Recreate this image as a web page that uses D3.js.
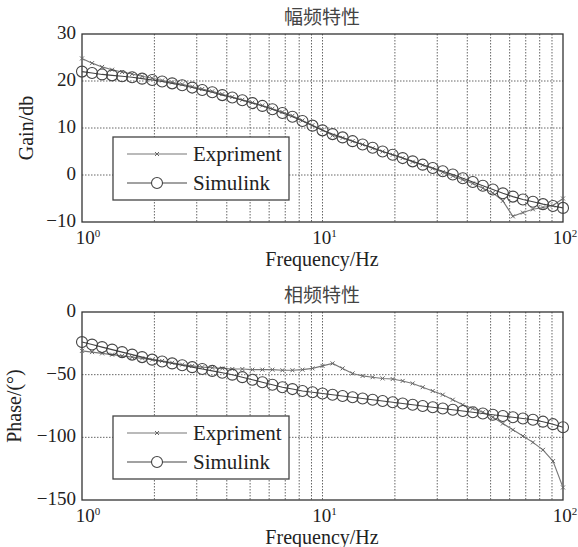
<!DOCTYPE html>
<html>
<head>
<meta charset="utf-8">
<script src="https://cdn.jsdelivr.net/npm/d3@7"></script>
<style>
  body { margin: 0; background: #fff; }
  text { font-family: "Liberation Serif", "Times New Roman", serif; fill: #222; }
  .cjk { font-family: "Noto Sans CJK SC", sans-serif; fill: #444; }
</style>
</head>
<body>
<div id="chart"></div>
<script>
// frequency points (Hz)
var freq = [1, 1.101, 1.212, 1.334, 1.468, 1.616, 1.778, 1.958, 2.154, 2.371, 2.610, 2.873,
  3.162, 3.481, 3.831, 4.217, 4.642, 5.109, 5.623, 6.190, 6.813, 7.499, 8.254, 9.085,
  10, 11.01, 12.12, 13.34, 14.68, 16.16, 17.78, 19.58, 21.54, 23.71, 26.10, 28.73,
  31.62, 34.81, 38.31, 42.17, 46.42, 51.09, 56.23, 61.90, 68.13, 74.99, 82.54, 90.85, 100];

var gainExp = [24.8, 23.8, 23.0, 22.4, 21.9, 21.5, 21.0, 20.6, 20.1, 19.7, 19.3, 18.8,
  18.3, 17.8, 17.2, 16.6, 16.0, 15.4, 14.8, 14.1, 13.4, 12.6, 11.6, 10.6,
  9.6, 8.4, 7.9, 7.2, 6.5, 5.7, 5.0, 4.3, 3.6, 2.8, 2.1, 1.4,
  0.6, -0.2, -1.0, -1.8, -2.8, -3.8, -5.5, -8.8, -8.0, -7.3, -6.9, -6.5, -5.0];

var gainSim = [22.0, 21.7, 21.4, 21.2, 21.0, 20.8, 20.5, 20.2, 19.9, 19.5, 19.1, 18.6,
  18.1, 17.6, 17.0, 16.5, 15.9, 15.3, 14.7, 14.0, 13.2, 12.4, 11.5, 10.5,
  9.5, 8.7, 8.0, 7.2, 6.5, 5.8, 5.0, 4.3, 3.6, 2.9, 2.2, 1.5,
  0.8, 0.1, -0.7, -1.5, -2.3, -3.1, -3.9, -4.6, -5.2, -5.7, -6.2, -6.6, -7.0];

var phaseExp = [-31, -32, -33, -34, -35, -36, -37, -38, -39, -40.5, -42, -43,
  -44, -44.5, -45, -45.5, -45.5, -46, -46, -46, -46.5, -46.5, -46, -45,
  -43, -41, -45, -49, -51, -52, -53, -53.5, -55, -57, -60, -63,
  -66, -70, -74, -77, -80, -84, -89, -94, -99, -104, -110, -119, -140];

var phaseSim = [-24, -26, -28, -30, -32, -34, -36, -38, -39.5, -41, -42.5, -44,
  -45.5, -47, -48.5, -50, -52, -54, -56, -58, -60, -61.5, -63, -64,
  -65, -66, -67, -68, -69, -70, -71, -72, -73, -74, -75, -76,
  -77, -78, -79, -80, -81, -82, -83, -84, -85, -86, -87.5, -89.5, -92];

var gainTicks = [-10, 0, 10, 20, 30];
var phaseTicks = [-150, -100, -50, 0];
var seriesNames = ["Expriment", "Simulink"];

var W = 578, H = 547;
var svg = d3.select("#chart").append("svg").attr("width", W).attr("height", H);

var x = d3.scaleLog().domain([1, 100]).range([82, 563]);
var gridX = [2, 3, 4, 5, 6, 7, 8, 9, 10, 20, 30, 40, 50, 60, 70, 80, 90];
var fmt = function(v) { return v < 0 ? "\u2212" + Math.abs(v) : String(v); };

function panel(o) {
  var y = d3.scaleLinear().domain(o.domain).range([o.bottom, o.top]);
  var g = svg.append("g");

  // grid
  g.selectAll(".gx").data(gridX).enter().append("line")
    .attr("x1", function(d) { return x(d); }).attr("x2", function(d) { return x(d); })
    .attr("y1", o.top).attr("y2", o.bottom)
    .attr("stroke", "#666").attr("stroke-width", 1).attr("stroke-dasharray", "1.5,1.5");
  g.selectAll(".gy").data(o.ticks.slice(1, -1)).enter().append("line")
    .attr("x1", x.range()[0]).attr("x2", x.range()[1])
    .attr("y1", function(d) { return y(d); }).attr("y2", function(d) { return y(d); })
    .attr("stroke", "#666").attr("stroke-width", 1).attr("stroke-dasharray", "1.5,1.5");

  // frame
  g.append("rect").attr("x", 82).attr("y", o.top).attr("width", 563 - 82).attr("height", o.bottom - o.top)
    .attr("fill", "none").attr("stroke", "#333").attr("stroke-width", 1.3);

  // y tick labels
  g.selectAll(".yt").data(o.ticks).enter().append("text")
    .attr("x", 76).attr("y", function(d) { return y(d) + 5; })
    .attr("text-anchor", "end").attr("font-size", 19).text(fmt);

  // x tick labels 10^n
  [1, 10, 100].forEach(function(v, i) {
    var t = g.append("text").attr("x", x(v) + (i ? 2 : 6)).attr("y", o.bottom + 22)
      .attr("text-anchor", "middle").attr("font-size", 19);
    t.append("tspan").text("10");
    t.append("tspan").attr("dy", -7).attr("font-size", 11).text(i);
  });

  g.append("text").attr("x", 322).attr("y", o.bottom + 44).attr("text-anchor", "middle")
    .attr("font-size", 20).text("Frequency/Hz");
  g.append("text").attr("transform", "translate(" + o.ylx + "," + ((o.top + o.bottom) / 2) + ") rotate(-90)")
    .attr("text-anchor", "middle").attr("font-size", 20).text(o.ylabel);
  g.append("text").attr("class", "cjk").attr("x", 322).attr("y", o.top - 10)
    .attr("text-anchor", "middle").attr("font-size", 19).text(o.title);

  var line = d3.line().x(function(d) { return x(d[0]); }).y(function(d) { return y(d[1]); });
  var exp = d3.zip(freq, o.exp), sim = d3.zip(freq, o.sim);

  g.append("path").attr("d", line(exp)).attr("fill", "none").attr("stroke", "#777").attr("stroke-width", 1.1);
  g.selectAll(".cx").data(exp).enter().append("path")
    .attr("transform", function(d) { return "translate(" + x(d[0]) + "," + y(d[1]) + ")"; })
    .attr("d", "M-2,-2L2,2M-2,2L2,-2").attr("stroke", "#666").attr("stroke-width", 1);

  g.append("path").attr("d", line(sim)).attr("fill", "none").attr("stroke", "#444").attr("stroke-width", 1.1);
  g.selectAll(".ci").data(sim).enter().append("circle")
    .attr("cx", function(d) { return x(d[0]); }).attr("cy", function(d) { return y(d[1]); })
    .attr("r", 5.5).attr("fill", "none").attr("stroke", "#444").attr("stroke-width", 1.1);

  // legend
  var L = g.append("g").attr("transform", "translate(113," + o.legY + ")");
  L.append("rect").attr("width", 176).attr("height", 63).attr("fill", "#fff")
    .attr("stroke", "#444").attr("stroke-width", 1.3);
  seriesNames.forEach(function(name, i) {
    var cy = 17 + i * 29;
    L.append("line").attr("x1", 14).attr("x2", 74).attr("y1", cy).attr("y2", cy)
      .attr("stroke", i ? "#444" : "#777").attr("stroke-width", 1.1);
    if (i) {
      L.append("circle").attr("cx", 44).attr("cy", cy).attr("r", 5.5)
        .attr("fill", "#fff").attr("stroke", "#444").attr("stroke-width", 1.1);
    } else {
      L.append("path").attr("transform", "translate(44," + cy + ")")
        .attr("d", "M-2,-2L2,2M-2,2L2,-2").attr("stroke", "#666");
    }
    L.append("text").attr("x", 80).attr("y", cy + 7).attr("font-size", 21).text(name);
  });
}

panel({ top: 34, bottom: 222, domain: [-10, 30], ticks: gainTicks, exp: gainExp, sim: gainSim,
  ylabel: "Gain/db", ylx: 33, title: "幅频特性", legY: 137 });
panel({ top: 312, bottom: 500, domain: [-150, 0], ticks: phaseTicks, exp: phaseExp, sim: phaseSim,
  ylabel: "Phase/(°)", ylx: 21, title: "相频特性", legY: 416 });
</script>
</body>
</html>
